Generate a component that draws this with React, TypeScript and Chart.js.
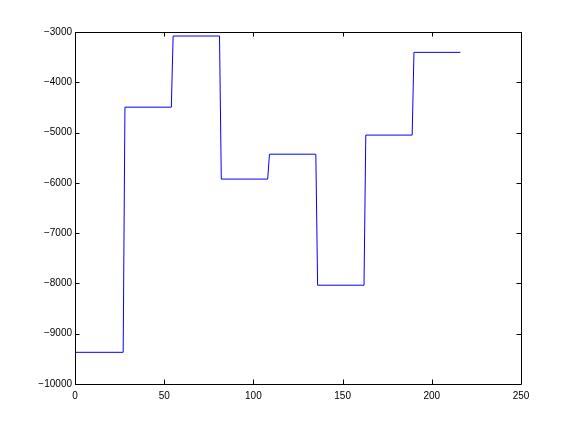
import React, { useEffect, useRef } from "react";
import { Chart, registerables } from "chart.js";

Chart.register(...registerables);

// Step signal breakpoints (x, y)
const stepX = [0, 27, 28, 54, 55, 81, 82, 108, 109, 135, 136, 162, 163, 189, 190, 216];
const stepY = [
  -9370, -9370, -4495, -4495, -3080, -3080, -5925, -5925,
  -5430, -5430, -8035, -8035, -5050, -5050, -3405, -3405,
];
const xTicks = [0, 50, 100, 150, 200, 250];
const yTicks = [-10000, -9000, -8000, -7000, -6000, -5000, -4000, -3000];

const FONT = "'Liberation Sans', Arial, Helvetica, sans-serif";

const fmt = (v: number) => (v < 0 ? "\u2212" + String(Math.abs(v)) : String(v));

const frameTicks = {
  id: "frameTicks",
  afterDraw(chart: any) {
    const { ctx, chartArea } = chart;
    const { left, right, top, bottom } = chartArea;
    const xs = chart.scales.x;
    const ys = chart.scales.y;
    const L = 4.5;
    ctx.save();
    ctx.strokeStyle = "#000";
    ctx.lineWidth = 1;
    ctx.beginPath();
    ctx.rect(Math.round(left) + 0.5, Math.round(top) + 0.5, Math.round(right - left), Math.round(bottom - top));
    for (const t of xTicks) {
      const px = Math.round(xs.getPixelForValue(t)) + 0.5;
      ctx.moveTo(px, bottom);
      ctx.lineTo(px, bottom - L);
      ctx.moveTo(px, top);
      ctx.lineTo(px, top + L);
    }
    for (const t of yTicks) {
      const py = Math.round(ys.getPixelForValue(t)) + 0.5;
      ctx.moveTo(left, py);
      ctx.lineTo(left + L, py);
      ctx.moveTo(right, py);
      ctx.lineTo(right - L, py);
    }
    ctx.stroke();
    ctx.restore();
  },
};

export default function App() {
  const ref = useRef<HTMLCanvasElement>(null);
  useEffect(() => {
    document.body.style.margin = "0";
    const data = stepX.map((x, i) => ({ x, y: stepY[i] }));
    const chart = new Chart(ref.current as HTMLCanvasElement, {
      type: "line",
      data: {
        datasets: [
          {
            data,
            borderColor: "#0000ff",
            borderWidth: 1,
            pointRadius: 0,
            fill: false,
            tension: 0,
          },
        ],
      },
      options: {
        animation: false,
        responsive: false,
        maintainAspectRatio: false,
        layout: { padding: { left: 0, right: 55, top: 32, bottom: 0 } },
        plugins: { legend: { display: false }, tooltip: { enabled: false } },
        scales: {
          x: {
            type: "linear",
            min: 0,
            max: 250,
            afterFit: (s: any) => {
              s.height = 48;
            },
            afterBuildTicks: (s: any) => {
              s.ticks = xTicks.map((v) => ({ value: v }));
            },
            grid: { display: false, drawTicks: false },
            border: { display: false },
            ticks: {
              color: "#000",
              font: { family: FONT, size: 10 },
              padding: 6,
              maxRotation: 0,
              autoSkip: false,
              callback: (v: any) => fmt(Number(v)),
            },
          },
          y: {
            type: "linear",
            min: -10000,
            max: -3000,
            afterFit: (s: any) => {
              s.width = 75;
            },
            afterBuildTicks: (s: any) => {
              s.ticks = yTicks.map((v) => ({ value: v }));
            },
            grid: { display: false, drawTicks: false },
            border: { display: false },
            ticks: {
              color: "#000",
              font: { family: FONT, size: 10 },
              padding: 3,
              autoSkip: false,
              callback: (v: any) => fmt(Number(v)),
            },
          },
        },
      },
      plugins: [frameTicks],
    });
    return () => chart.destroy();
  }, []);
  return (
    <div style={{ position: "absolute", left: 0, top: 0, width: 576, height: 432, background: "#fff" }}>
      <canvas ref={ref} width={576} height={432} style={{ display: "block", width: 576, height: 432 }} />
    </div>
  );
}
